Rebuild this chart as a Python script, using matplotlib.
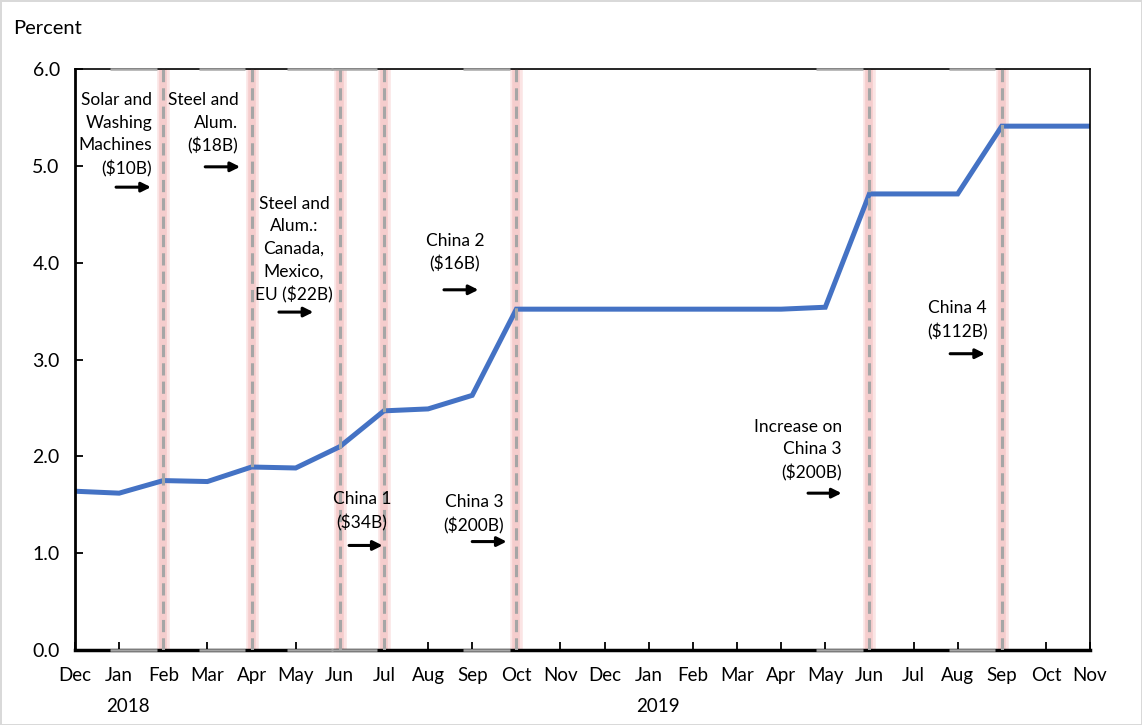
import matplotlib.pyplot as plt
import numpy as np

plt.rcParams['font.family'] = ['Lato', 'DejaVu Sans']

months = ['Dec', 'Jan', 'Feb', 'Mar', 'Apr', 'May', 'Jun', 'Jul', 'Aug', 'Sep', 'Oct', 'Nov',
          'Dec', 'Jan', 'Feb', 'Mar', 'Apr', 'May', 'Jun', 'Jul', 'Aug', 'Sep', 'Oct', 'Nov']
years = ['2018', '2019']
year_month = [1, 13]

# average tariff rate, percent
rate = [1.64, 1.62, 1.75, 1.74, 1.89, 1.88, 2.10, 2.47, 2.49, 2.63, 3.52, 3.52,
        3.52, 3.52, 3.52, 3.52, 3.52, 3.54, 4.71, 4.71, 4.71, 5.41, 5.41, 5.41]

# tariff actions (month index of the vertical line)
events = [2, 4, 6, 7, 10, 18, 21]
event_labels = ['Solar and\nWashing\nMachines\n($10B)',
                'Steel and\nAlum.\n($18B)',
                'Steel and\nAlum.:\nCanada,\nMexico,\nEU ($22B)',
                'China 2\n($16B)',
                'China 1\n($34B)',
                'China 3\n($200B)',
                'Increase on\nChina 3\n($200B)',
                'China 4\n($112B)']

x = np.arange(len(months))

fig = plt.figure(figsize=(11.42, 7.25), dpi=100)
fig.patch.set_edgecolor('#d9d9d9')
fig.patch.set_linewidth(2)
ax = fig.add_axes([0.0657, 0.1034, 0.8888, 0.8014])

for e in events:
    ax.axvline(e, color='#fbe4e4', lw=9, zorder=1)
    ax.axvline(e, color='#f5cdcd', lw=5.5, zorder=1)
    ax.axvline(e, color='#a6a6a6', lw=2.2, ls=(0, (4, 2)), zorder=3)
    # grey caps along top and bottom
    for yy in (0, 6):
        ax.plot([e - 1.2, e - 0.15], [yy, yy], color='#a6a6a6', lw=1.8,
                zorder=4, clip_on=False, solid_capstyle='butt')

ax.plot(x, rate, color='#4472c4', lw=3.6, zorder=2, solid_joinstyle='miter')

# text placement: (x, y, ha)
text_pos = [(1.75, 5.76, 'right'), (3.70, 5.76, 'right'), (4.96, 4.69, 'center'),
            (8.61, 4.31, 'center'), (6.50, 1.64, 'center'), (9.04, 1.61, 'center'),
            (17.38, 2.39, 'right'), (20.0, 3.61, 'center')]
arrow_pos = [(0.93, 1.72, 4.78), (2.95, 3.74, 4.99), (4.62, 5.40, 3.49),
             (8.36, 9.14, 3.72), (6.21, 6.97, 1.08), (9.0, 9.78, 1.12),
             (16.61, 17.37, 1.62), (19.83, 20.62, 3.06)]

for lab, (tx, ty, ha), (ax0, ax1, ay) in zip(event_labels, text_pos, arrow_pos):
    ax.text(tx, ty, lab, ha=ha, va='top', multialignment=ha, fontsize=12.5,
            linespacing=1.5, zorder=5)
    ax.annotate('', xy=(ax1, ay), xytext=(ax0, ay),
                arrowprops=dict(arrowstyle='-|>', color='black', lw=2.2,
                                mutation_scale=14, shrinkA=0, shrinkB=0), zorder=5)

ax.set_xlim(0, len(months) - 1)
ax.set_ylim(0, 6)
ax.set_xticks(x)
ax.set_xticklabels(months, fontsize=13.5)
ax.set_yticks(np.arange(0, 6.1, 1.0))
ax.set_yticklabels(['%.1f' % v for v in np.arange(0, 6.1, 1.0)], fontsize=14)
ax.tick_params(axis='x', direction='in', length=6, width=1.3, pad=12)
ax.tick_params(axis='y', direction='in', length=6, width=1.3, pad=11)
for s in ax.spines.values():
    s.set_linewidth(1.2)
ax.spines['bottom'].set_linewidth(2.5)
ax.spines['left'].set_linewidth(2.0)

for yr, m in zip(years, year_month):
    ax.text(m + 0.2, -0.58, yr, ha='center', va='center', fontsize=13.5,
            transform=ax.transData)

fig.text(13 / 1142, 1 - 29 / 725, 'Percent', ha='left', va='center', fontsize=14.5)

fig.savefig('out.png', dpi=100)
